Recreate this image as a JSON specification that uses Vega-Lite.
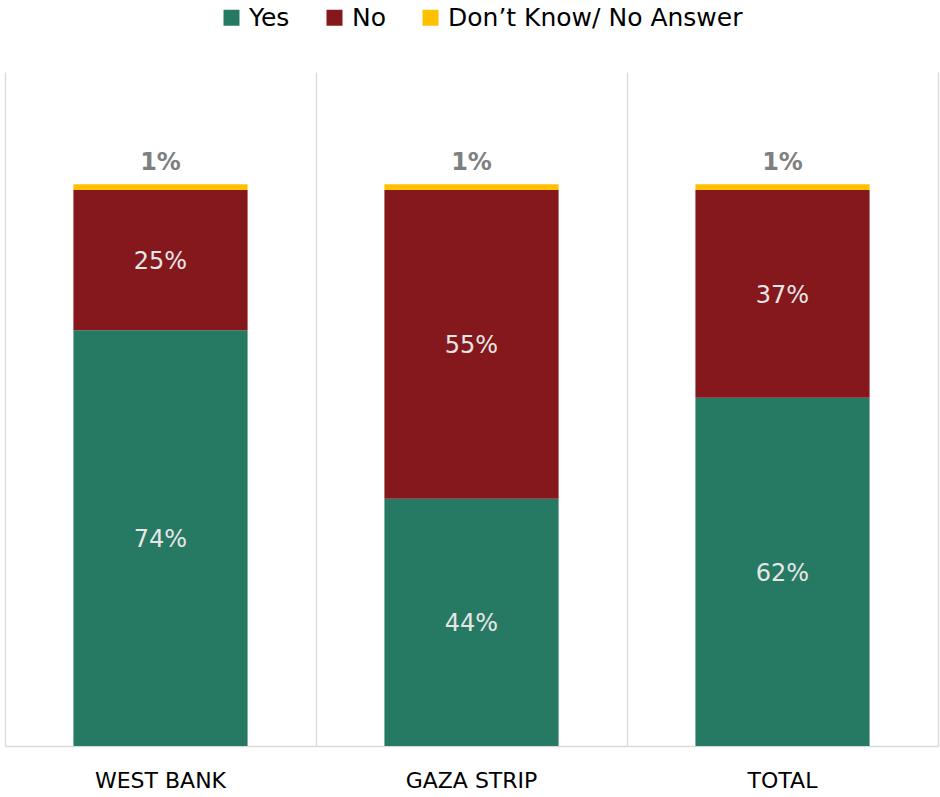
{
  "$schema": "https://vega.github.io/schema/vega-lite/v6.json",
  "width": 933,
  "height": 674,
  "autosize": {"type": "none"},
  "padding": {"left": 5, "top": 72, "right": 2, "bottom": 51},
  "background": "white",
  "config": {
    "view": {"stroke": null},
    "font": "DejaVu Sans"
  },
  "data": {
    "values": [
      {"region": "WEST BANK", "answer": "Yes", "order": 1, "value": 0.74},
      {"region": "WEST BANK", "answer": "No", "order": 2, "value": 0.25},
      {"region": "WEST BANK", "answer": "Don’t Know/ No Answer", "order": 3, "value": 0.01},
      {"region": "GAZA STRIP", "answer": "Yes", "order": 1, "value": 0.44},
      {"region": "GAZA STRIP", "answer": "No", "order": 2, "value": 0.55},
      {"region": "GAZA STRIP", "answer": "Don’t Know/ No Answer", "order": 3, "value": 0.01},
      {"region": "TOTAL", "answer": "Yes", "order": 1, "value": 0.62},
      {"region": "TOTAL", "answer": "No", "order": 2, "value": 0.37},
      {"region": "TOTAL", "answer": "Don’t Know/ No Answer", "order": 3, "value": 0.01}
    ]
  },
  "encoding": {
    "x": {
      "field": "region",
      "type": "nominal",
      "sort": ["WEST BANK", "GAZA STRIP", "TOTAL"],
      "scale": {"paddingInner": 0, "paddingOuter": 0},
      "axis": {
        "title": null,
        "labelAngle": 0,
        "labelFont": "DejaVu Sans",
        "labelFontSize": 22,
        "labelColor": "#000000",
        "labelPadding": 24,
        "ticks": false,
        "grid": true,
        "gridColor": "#d9d9d9",
        "gridWidth": 1.3,
        "bandPosition": 0,
        "domainColor": "#d9d9d9",
        "domainWidth": 1.5
      }
    }
  },
  "layer": [
    {
      "mark": {"type": "bar", "width": {"band": 0.56}},
      "encoding": {
        "y": {
          "field": "value",
          "type": "quantitative",
          "stack": "zero",
          "scale": {"domain": [0, 1.2]},
          "axis": {
            "orient": "right",
            "title": null,
            "labels": false,
            "ticks": false,
            "grid": false,
            "domain": true,
            "domainColor": "#d9d9d9",
            "domainWidth": 1.3
          }
        },
        "color": {
          "field": "answer",
          "type": "nominal",
          "scale": {
            "domain": ["Yes", "No", "Don’t Know/ No Answer"],
            "range": ["#267A63", "#84181D", "#FFC000"]
          },
          "legend": {
            "title": null,
            "orient": "none",
            "direction": "horizontal",
            "legendX": 214,
            "legendY": -67,
            "symbolType": "square",
            "symbolSize": 256,
            "symbolStrokeWidth": 0,
            "labelFont": "DejaVu Sans",
            "labelFontSize": 25,
            "labelColor": "#000000",
            "labelOffset": 5,
            "labelLimit": 0,
            "columnPadding": 32
          }
        },
        "order": {"field": "order", "type": "quantitative"}
      }
    },
    {
      "transform": [{"filter": "datum.order < 3"}],
      "mark": {"type": "text", "fontSize": 24, "color": "#e6e6e6", "baseline": "middle", "dy": 2},
      "encoding": {
        "y": {"field": "value", "type": "quantitative", "stack": "zero", "bandPosition": 0.5},
        "text": {"field": "value", "type": "quantitative", "format": ".0%"},
        "order": {"field": "order", "type": "quantitative"}
      }
    },
    {
      "transform": [
        {"stack": "value", "groupby": ["region"], "sort": [{"field": "order"}], "as": ["v0", "v1"]},
        {"filter": "datum.order == 3"}
      ],
      "mark": {"type": "text", "fontSize": 24, "fontWeight": "bold", "color": "#7f7f7f", "baseline": "alphabetic", "dy": -14},
      "encoding": {
        "y": {"field": "v1", "type": "quantitative"},
        "text": {"field": "value", "type": "quantitative", "format": ".0%"}
      }
    }
  ]
}
